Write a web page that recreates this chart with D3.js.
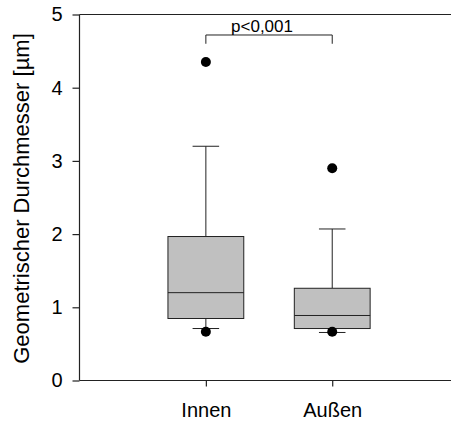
<!DOCTYPE html>
<html>
<head>
<meta charset="utf-8">
<script src="https://cdn.jsdelivr.net/npm/d3@7"></script>
<style>
  html, body { margin: 0; padding: 0; background: #fff; }
  svg { display: block; }
  text { font-family: "Liberation Sans", Arial, sans-serif; fill: #000; }
</style>
</head>
<body>
<svg id="chart" width="451" height="423"></svg>
<script>
// ---- data ----
const categories = ["Innen", "Außen"];
const whiskerLow  = [0.71, 0.656];
const q1          = [0.847, 0.71];
const medians     = [1.20, 0.888];
const q3          = [1.967, 1.26];
const whiskerHigh = [3.20, 2.07];
const outliers    = [[0.665, 4.35], [0.665, 2.90]];
const yTicks      = [0, 1, 2, 3, 4, 5];
const yTitle      = "Geometrischer Durchmesser [µm]";
const sigLabel    = "p<0,001";
const sigY        = [4.72, 4.60]; // bracket top, bracket leg end

// ---- layout ----
const svg = d3.select("#chart");
const mLeft = 79.5, mRight = 451, mTop = 14.5, mBottom = 380.5;

const y = d3.scaleLinear().domain([0, 5]).range([mBottom, mTop]);
const x = d3.scaleLinear().domain([0, 2.94]).range([mLeft, mRight]);
const xPos = i => x(i + 1);
const boxW = x(0.6) - x(0);
const capW = x(0.21) - x(0);

const stroke = "#222";

// top frame line
svg.append("line")
  .attr("x1", mLeft).attr("x2", mRight).attr("y1", mTop).attr("y2", mTop)
  .attr("stroke", stroke).attr("stroke-width", 1.2);

// y axis
const yAxis = svg.append("g").attr("transform", `translate(${mLeft},0)`)
  .call(d3.axisLeft(y).tickValues(yTicks).tickSize(7).tickPadding(10).tickFormat(d3.format("d")));
yAxis.select(".domain").attr("stroke", stroke).attr("stroke-width", 1.2).attr("d", `M0,${mTop}V${mBottom}`);
yAxis.selectAll(".tick line").attr("stroke", stroke).attr("stroke-width", 1.2);
yAxis.selectAll(".tick text").attr("font-size", "20px").attr("fill", "#000")
  .style("font-family", '"Liberation Sans", Arial, sans-serif');

// x axis
const xAxis = svg.append("g").attr("transform", `translate(0,${mBottom})`)
  .call(d3.axisBottom(x).tickValues([1, 2]).tickSize(6).tickPadding(16)
    .tickFormat(d => categories[d - 1]));
xAxis.select(".domain").attr("stroke", stroke).attr("stroke-width", 1.2).attr("d", `M${mLeft},0H${mRight}`);
xAxis.selectAll(".tick line").attr("stroke", stroke).attr("stroke-width", 1.2);
xAxis.selectAll(".tick text").attr("font-size", "20px").attr("fill", "#000")
  .style("font-family", '"Liberation Sans", Arial, sans-serif');

// y title
svg.append("text")
  .attr("transform", `translate(29,${(mTop + mBottom) / 2 + 1}) rotate(-90)`)
  .attr("text-anchor", "middle")
  .attr("font-size", "22px")
  .text(yTitle);

// boxes
const g = svg.append("g");
categories.forEach((c, i) => {
  const cx = xPos(i);
  g.append("line").attr("x1", cx).attr("x2", cx).attr("y1", y(q3[i])).attr("y2", y(whiskerHigh[i]))
    .attr("stroke", stroke).attr("stroke-width", 1);
  g.append("line").attr("x1", cx).attr("x2", cx).attr("y1", y(q1[i])).attr("y2", y(whiskerLow[i]))
    .attr("stroke", stroke).attr("stroke-width", 1);
  g.append("line").attr("x1", cx - capW / 2).attr("x2", cx + capW / 2)
    .attr("y1", y(whiskerHigh[i])).attr("y2", y(whiskerHigh[i])).attr("stroke", stroke).attr("stroke-width", 1);
  g.append("line").attr("x1", cx - capW / 2).attr("x2", cx + capW / 2)
    .attr("y1", y(whiskerLow[i])).attr("y2", y(whiskerLow[i])).attr("stroke", stroke).attr("stroke-width", 1);
  g.append("rect").attr("x", cx - boxW / 2).attr("width", boxW)
    .attr("y", y(q3[i])).attr("height", y(q1[i]) - y(q3[i]))
    .attr("fill", "#c0c0c0").attr("stroke", stroke).attr("stroke-width", 1);
  g.append("line").attr("x1", cx - boxW / 2).attr("x2", cx + boxW / 2)
    .attr("y1", y(medians[i])).attr("y2", y(medians[i])).attr("stroke", stroke).attr("stroke-width", 1);
  outliers[i].forEach(v => {
    g.append("circle").attr("cx", cx).attr("cy", y(v)).attr("r", 5).attr("fill", "#000");
  });
});

// significance bracket
const x1 = xPos(0), x2 = xPos(1);
svg.append("path")
  .attr("d", `M${x1},${y(sigY[1])}V${y(sigY[0])}H${x2}V${y(sigY[1])}`)
  .attr("fill", "none").attr("stroke", stroke).attr("stroke-width", 1);
svg.append("text")
  .attr("x", (x1 + x2) / 2 - 7).attr("y", y(sigY[0]) - 3)
  .attr("text-anchor", "middle").attr("font-size", "17px")
  .text(sigLabel);
</script>
</body>
</html>
